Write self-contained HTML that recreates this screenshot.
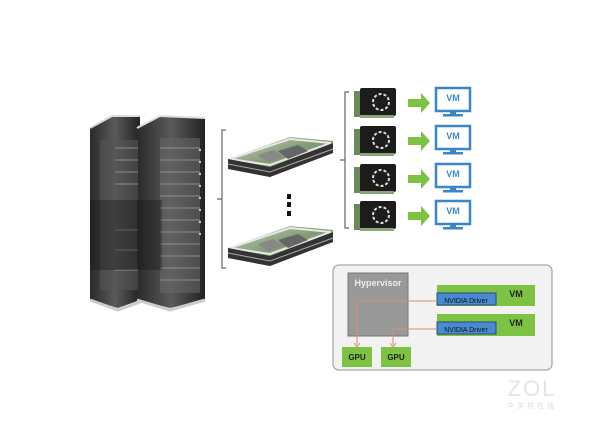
<!DOCTYPE html>
<html><head><meta charset="utf-8"><style>
html,body{margin:0;padding:0;background:#fff;width:608px;height:422px;overflow:hidden}
svg{display:block;font-family:"Liberation Sans",sans-serif}
</style></head><body>
<svg width="608" height="422" viewBox="0 0 608 422" xmlns="http://www.w3.org/2000/svg">
<defs>
<linearGradient id="rk" x1="0" x2="1" y1="0" y2="0">
<stop offset="0" stop-color="#2a2a2a"/><stop offset="0.5" stop-color="#5a5a5a"/><stop offset="1" stop-color="#222"/>
</linearGradient>
<linearGradient id="sv" x1="0" x2="1" y1="0" y2="1">
<stop offset="0" stop-color="#d0d6cc"/><stop offset="0.5" stop-color="#7f9a70"/><stop offset="1" stop-color="#b8bcb8"/>
</linearGradient>
<g id="card">
<rect x="0" y="3" width="8" height="26" fill="#6a8a5a"/>
<rect x="6" y="0" width="36" height="28" rx="2" fill="#1c1c1c"/>
<rect x="6" y="27" width="34" height="3" fill="#8aa57a"/>
<circle cx="27" cy="14" r="8" fill="none" stroke="#ddd" stroke-width="2" stroke-dasharray="3 2"/>
</g>
<g id="mon">
<rect x="1" y="1" width="34" height="23" fill="#fff" stroke="#3a86c8" stroke-width="2.5"/>
<text x="18" y="14" font-size="9" font-weight="bold" fill="#3a86c8" text-anchor="middle">VM</text>
<rect x="15" y="24" width="6" height="4" fill="#3a86c8"/>
<rect x="8" y="27" width="20" height="2.5" fill="#3a86c8"/>
</g>
<g id="arr"><path d="M0 6 H13 V0 L22 10 L13 20 V14 H0 Z" fill="#7dc242"/></g>
<g id="srv">
<path d="M0 22 L62 0 L105 4 L105 16 L42 40 L0 32 Z" fill="url(#sv)"/>
<path d="M2 22 L62 2 L103 6 L42 28 Z" fill="none" stroke="#e8e8e8" stroke-width="2"/>
<path d="M0 22 L42 30 L105 6 L105 16 L42 40 L0 32 Z" fill="#333"/>
<path d="M0 27 L42 35 L105 12" stroke="#aaa" fill="none"/>
<path d="M50 14 L70 8 L80 14 L60 22 Z" fill="#666"/>
<path d="M30 18 L45 13 L55 20 L40 25 Z" fill="#888"/>
</g>
</defs>

<!-- racks -->
<g>
<path d="M90 128 L112 116 L140 116 L140 300 L118 308 L90 300 Z" fill="url(#rk)"/>
<path d="M137 128 L160 116 L205 118 L205 300 L170 308 L137 300 Z" fill="url(#rk)"/>
<path d="M90 128 L112 116 L140 116 M137 128 L160 116 L205 118" stroke="#ddd" stroke-width="2" fill="none"/>
<rect x="100" y="140" width="38" height="150" fill="#555" opacity="0.6"/>
<rect x="160" y="138" width="40" height="155" fill="#666" opacity="0.6"/>
<g stroke="#999" stroke-width="1" opacity="0.8">
<path d="M160 148H200M160 160H200M160 172H200M160 184H200M160 196H200M160 208H200M160 220H200M160 232H200M160 244H200M160 256H200M160 268H200M160 280H200"/>
<path d="M115 148H138M115 160H138M115 172H138M115 184H138M115 230H138M115 250H138M115 270H138"/>
</g>
<g fill="#cc9"><circle cx="200" cy="150" r="1.2"/><circle cx="200" cy="162" r="1.2"/><circle cx="200" cy="174" r="1.2"/><circle cx="200" cy="186" r="1.2"/><circle cx="200" cy="198" r="1.2"/><circle cx="200" cy="210" r="1.2"/><circle cx="200" cy="222" r="1.2"/><circle cx="200" cy="234" r="1.2"/></g>
<rect x="90" y="200" width="48" height="70" fill="#111" opacity="0.35"/>
<rect x="137" y="200" width="25" height="70" fill="#111" opacity="0.35"/>
<path d="M90 300 L118 310 L140 302 M137 300 L170 310 L205 300" stroke="#ccc" stroke-width="3" fill="none"/>
</g>

<!-- left bracket -->
<path d="M226 130 H222 V268 H226 M222 199 H217" stroke="#666" fill="none" stroke-width="1.2"/>
<use href="#srv" x="228" y="137"/>
<use href="#srv" x="228" y="226"/>
<rect x="287" y="194" width="4" height="5" fill="#111"/>
<rect x="287" y="202" width="4" height="5" fill="#111"/>
<rect x="287" y="211" width="4" height="5" fill="#111"/>

<!-- right bracket -->
<path d="M349 92 H345 V228 H349 M345 160 H340" stroke="#666" fill="none" stroke-width="1.2"/>

<use href="#card" x="354" y="88"/><use href="#arr" x="408" y="93"/><use href="#mon" x="435" y="87"/>
<use href="#card" x="354" y="126"/><use href="#arr" x="408" y="131"/><use href="#mon" x="435" y="125"/>
<use href="#card" x="354" y="164"/><use href="#arr" x="408" y="169"/><use href="#mon" x="435" y="163"/>
<use href="#card" x="354" y="201"/><use href="#arr" x="408" y="206"/><use href="#mon" x="435" y="200"/>

<!-- hypervisor diagram -->
<rect x="333" y="265" width="219" height="105" rx="6" fill="#f2f2f2" stroke="#aaa" stroke-width="1.3"/>
<rect x="348" y="273" width="60" height="63" fill="#999" stroke="#777"/>
<text x="378" y="286" font-size="9" font-weight="bold" fill="#eee" text-anchor="middle">Hypervisor</text>
<rect x="437" y="285" width="98" height="21" fill="#7dc242"/>
<rect x="437" y="314" width="98" height="22" fill="#7dc242"/>
<text x="516" y="297" font-size="9" font-weight="bold" fill="#222" text-anchor="middle">VM</text>
<text x="516" y="326" font-size="9" font-weight="bold" fill="#222" text-anchor="middle">VM</text>
<rect x="437" y="293" width="59" height="12" fill="#4a8ad0" stroke="#2a4a7a"/>
<rect x="437" y="322" width="59" height="12" fill="#4a8ad0" stroke="#2a4a7a"/>
<text x="466" y="303" font-size="7" fill="#111" text-anchor="middle">NVIDIA Driver</text>
<text x="466" y="332" font-size="7" fill="#111" text-anchor="middle">NVIDIA Driver</text>
<path d="M437 301 H357 V345" stroke="#d89070" fill="none"/>
<path d="M437 329 H393 V345" stroke="#d89070" fill="none"/>
<path d="M354 343 L357 347 L360 343 M390 343 L393 347 L396 343" stroke="#d89070" fill="none"/>
<rect x="342" y="347" width="30" height="20" fill="#7dc242"/>
<rect x="381" y="347" width="30" height="20" fill="#7dc242"/>
<text x="357" y="360" font-size="8" font-weight="bold" fill="#222" text-anchor="middle">GPU</text>
<text x="396" y="360" font-size="8" font-weight="bold" fill="#222" text-anchor="middle">GPU</text>

<!-- watermark -->
<text x="532" y="396" font-size="22" fill="#e4e4e4" text-anchor="middle" letter-spacing="2">ZOL</text>
<text x="532" y="408" font-size="7" fill="#ddd" text-anchor="middle" letter-spacing="3" font-family="'Liberation Sans','Noto Sans CJK SC',sans-serif">中关村在线</text>
</svg>
</body></html>
